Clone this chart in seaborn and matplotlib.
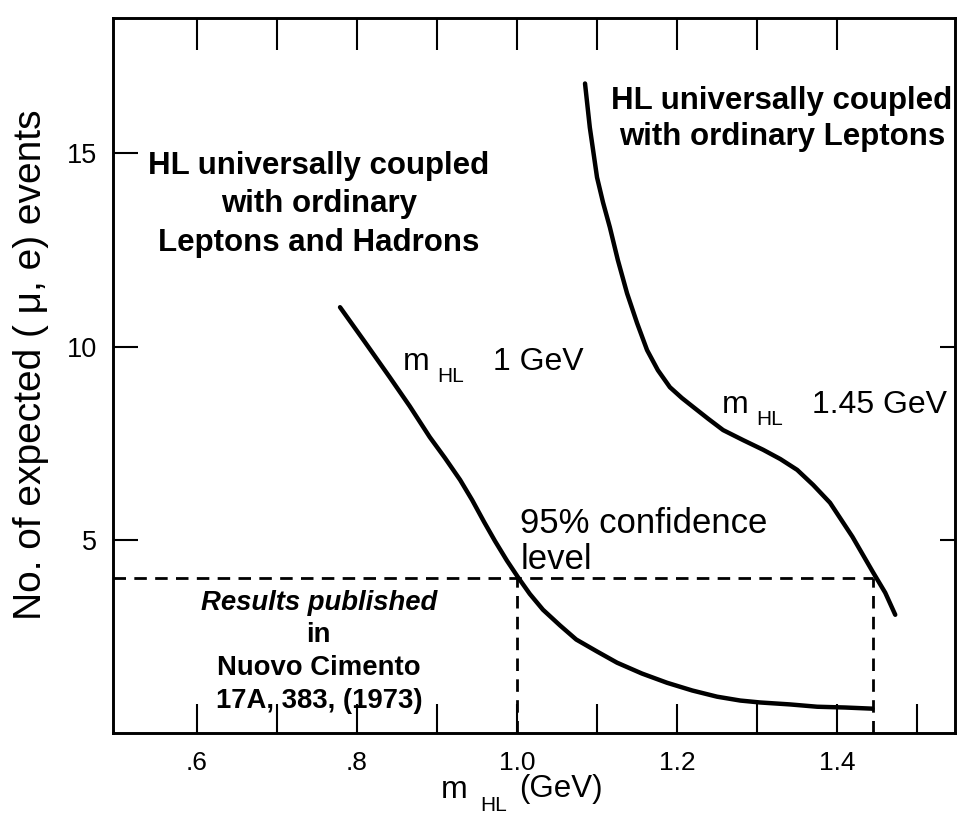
import numpy as np
import pandas as pd
import matplotlib
matplotlib.use("Agg")
import matplotlib.pyplot as plt
import seaborn as sns

# curve for m_HL = 1 GeV (leptons and hadrons)
x_1gev = [0.779, 0.81, 0.841, 0.866, 0.891, 0.91, 0.929, 0.944, 0.959,
          0.9725, 0.9875, 1.001, 1.016, 1.0325, 1.054, 1.074, 1.10, 1.125,
          1.156, 1.1875, 1.219, 1.25, 1.279, 1.304, 1.341, 1.375, 1.41, 1.444]
y_1gev = [11.02, 10.12, 9.21, 8.46, 7.66, 7.12, 6.55, 6.03, 5.46,
          4.97, 4.46, 4.04, 3.60, 3.19, 2.78, 2.42, 2.11, 1.82,
          1.54, 1.30, 1.10, 0.94, 0.84, 0.79, 0.74, 0.68, 0.66, 0.63]

# curve for m_HL = 1.45 GeV (leptons only)
x_145gev = [1.085, 1.091, 1.10, 1.1075, 1.116, 1.126, 1.1375, 1.15, 1.1625,
            1.176, 1.191, 1.206, 1.22, 1.239, 1.2575, 1.2825, 1.3075, 1.329,
            1.35, 1.37, 1.391, 1.419, 1.445, 1.46, 1.4725]
y_145gev = [16.81, 15.67, 14.38, 13.73, 13.09, 12.24, 11.38, 10.61, 9.91,
            9.39, 8.95, 8.67, 8.44, 8.13, 7.84, 7.58, 7.33, 7.09,
            6.81, 6.42, 5.96, 5.08, 4.15, 3.63, 3.06]

cl_level = 4.0
cl_masses = [1.0, 1.445]

xticks = [0.6, 0.7, 0.8, 0.9, 1.0, 1.1, 1.2, 1.3, 1.4, 1.5]
xticklabels = [".6", "", ".8", "", "1.0", "", "1.2", "", "1.4", ""]
top_ticks = [0.6, 0.7, 0.8, 0.9, 1.0, 1.1, 1.2, 1.3, 1.4]
yticks = [5, 10, 15]
right_ticks = [5, 10]

df = pd.concat([
    pd.DataFrame({"m": x_1gev, "n": y_1gev, "curve": "1 GeV"}),
    pd.DataFrame({"m": x_145gev, "n": y_145gev, "curve": "1.45 GeV"}),
])

sns.set_style("ticks")
plt.rcParams["font.family"] = ["Liberation Sans", "DejaVu Sans"]
for k in ["text.color", "axes.labelcolor", "xtick.color", "ytick.color"]:
    plt.rcParams[k] = "black"

W, H = 963, 816
fig = plt.figure(figsize=(W / 100, H / 100), dpi=100)
ax = fig.add_axes([0.117, 0.1017, 0.875, 0.876])


def px(x, y):
    # pixel position (from top-left) -> figure fraction
    return x / W, 1 - y / H


sns.lineplot(data=df, x="m", y="n", units="curve", estimator=None, sort=False,
             color="black", lw=3.2, ax=ax, legend=False)
ax.set_xlabel("")
ax.set_ylabel("")

# 95% confidence lines
dash = (0, (4.5, 3))
ax.plot([0.495, cl_masses[1]], [cl_level, cl_level], color="black", lw=2.0, ls=dash)
for m in cl_masses:
    ax.plot([m, m], [0, cl_level], color="black", lw=2.0, ls=dash)

ax.set_xlim(0.495, 1.5475)
ax.set_ylim(0, 18.5)

for s in ax.spines.values():
    s.set_linewidth(2.1)
    s.set_color("black")

ax.set_xticks(xticks)
ax.set_xticklabels(xticklabels)
ax.set_yticks(yticks)
ax.set_yticklabels([str(v) for v in yticks])
ax.tick_params(axis="x", direction="in", length=21, width=1.5, labelsize=19,
               pad=13)
ax.tick_params(axis="y", direction="in", length=18, width=1.5, labelsize=19.5,
               pad=11)

top = ax.secondary_xaxis("top")
top.set_xticks(top_ticks)
top.tick_params(direction="in", length=23, width=1.5, labeltop=False)
top.spines["top"].set_visible(False)
right = ax.secondary_yaxis("right")
right.set_yticks(right_ticks)
right.tick_params(direction="in", length=11, width=1.5, labelright=False)
right.spines["right"].set_visible(False)

# axis titles
fig.text(*px(441, 798), "m", fontsize=23, va="baseline")
fig.text(*px(480, 811), "HL", fontsize=15, va="baseline")
fig.text(*px(519, 797), "(GeV)", fontsize=22.5, va="baseline")
fig.text(*px(31, 365), "No. of expected ( \u03bc, e) events", fontsize=28,
         rotation=90, ha="center", va="center")

# annotations
ax.text(0.7525, 13.68, "HL universally coupled\nwith ordinary\nLeptons and Hadrons",
        ha="center", va="center", fontsize=22.5, fontweight="bold",
        linespacing=1.37)
ax.text(1.331, 15.89, "HL universally coupled\nwith ordinary Leptons",
        ha="center", va="center", fontsize=22.5, fontweight="bold",
        linespacing=1.3)

for (xm, ym, label) in [(0.8575, 9.39, "1 GeV"), (1.256, 8.28, "1.45 GeV")]:
    ax.text(xm, ym, "m", fontsize=23, va="baseline")
    ax.annotate("HL", (xm, ym), xytext=(25, -8.6), textcoords="offset points",
                fontsize=15, va="baseline")
    ax.annotate(label, (xm, ym), xytext=(65, 0), textcoords="offset points",
                fontsize=23, va="baseline")

ax.text(1.004, 4.25, "95% confidence\nlevel", ha="left", va="baseline",
        fontsize=25, linespacing=1.1)

ax.text(0.7525, 3.37, "Results published", ha="center", va="center",
        fontsize=19.8, fontweight="bold", fontstyle="italic")
ax.text(0.7525, 1.69, "in\nNuovo Cimento\n17A, 383, (1973)", ha="center",
        va="center", fontsize=19.8, fontweight="bold", linespacing=1.34)

fig.savefig("out.png", dpi=100)
